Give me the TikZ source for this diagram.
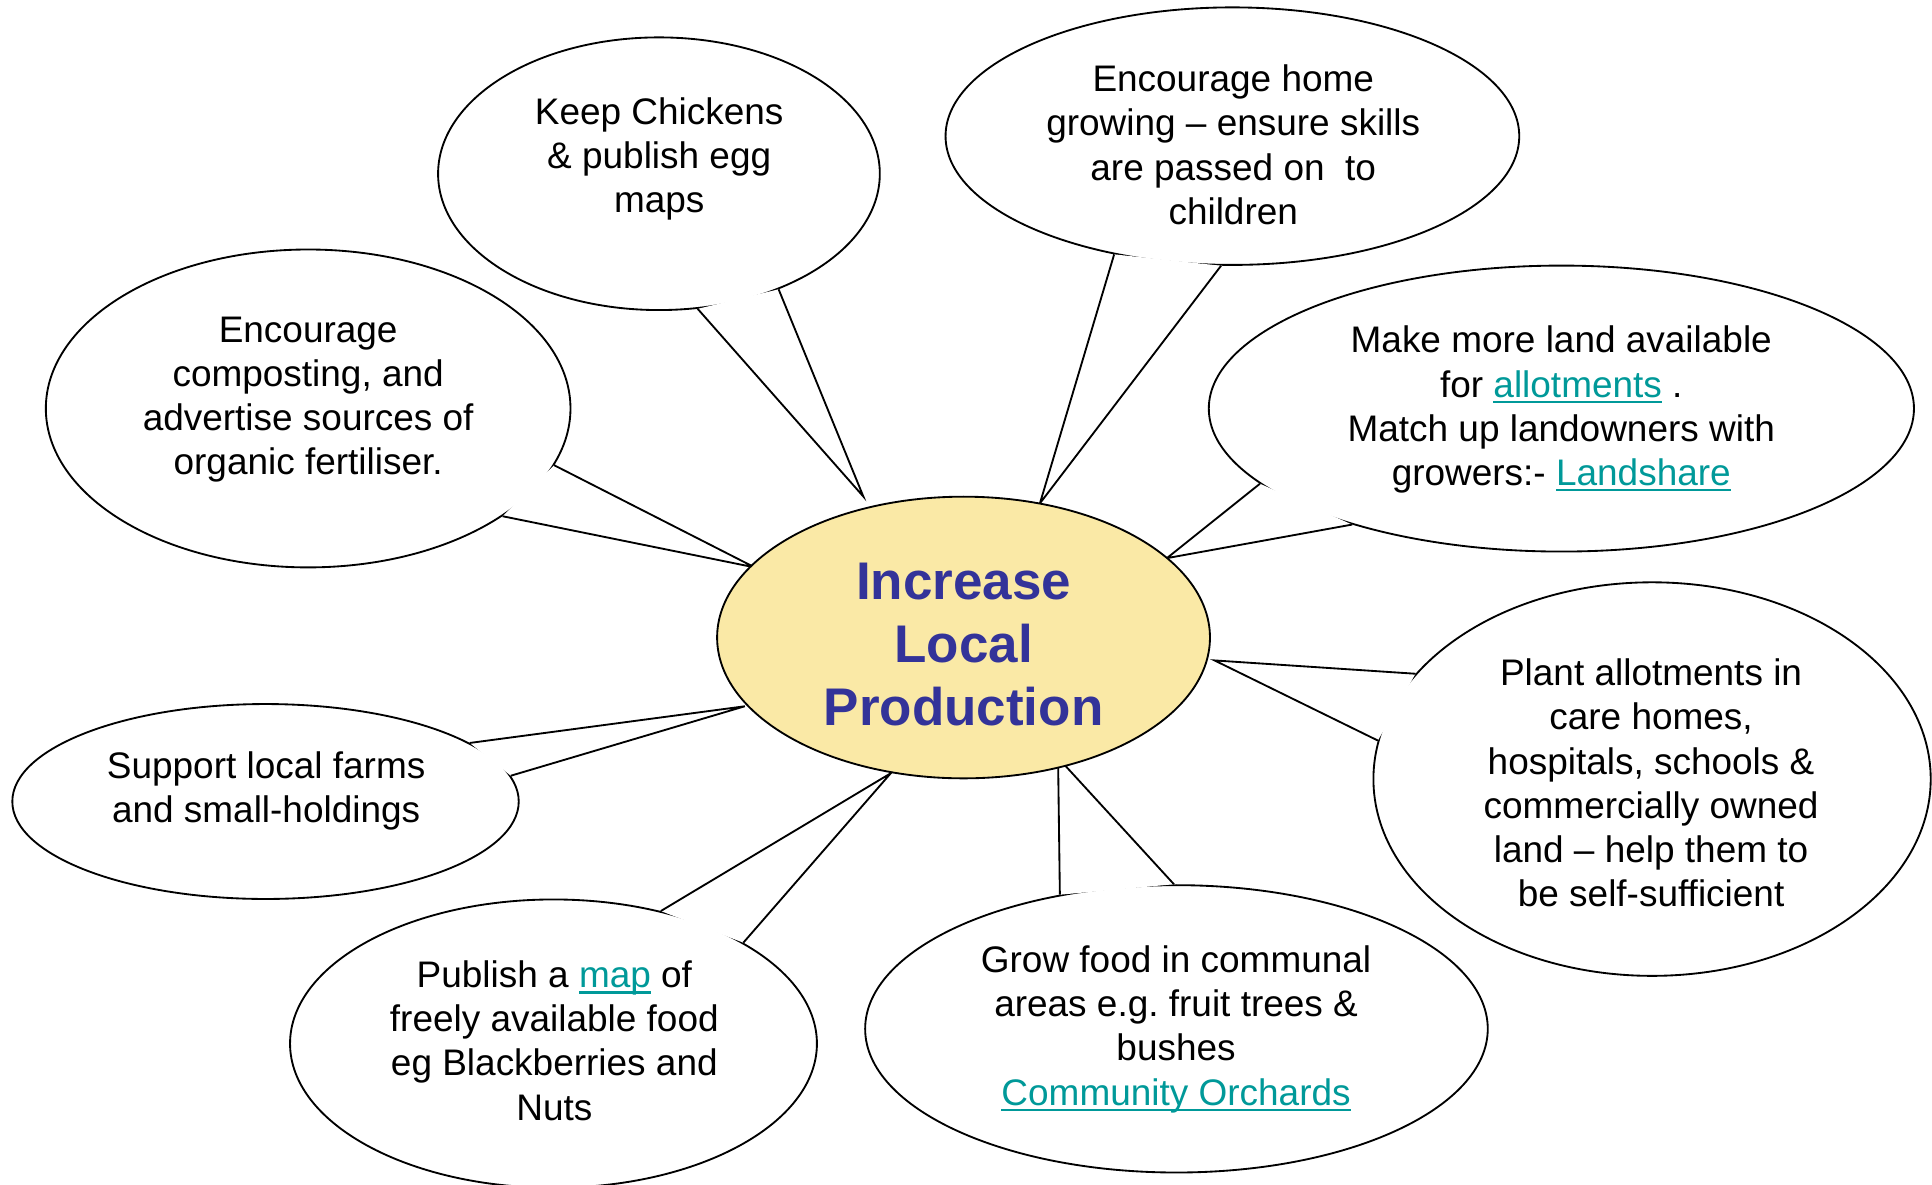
\documentclass[tikz,border=0pt]{standalone}
\usepackage{fontspec}
\setmainfont{Liberation Sans}
\usetikzlibrary{shapes.geometric}
\definecolor{linkc}{HTML}{009999}
\definecolor{titlec}{HTML}{333399}
\definecolor{hubfill}{HTML}{FAE9A6}
\newcommand\lnk[1]{{\color{linkc}\setbox0\hbox{#1}\rlap{\rule[-2.4pt]{\wd0}{0.85pt}}\box0}}
\frenchspacing
\begin{document}
\begin{tikzpicture}[x=0.5pt,y=-0.5pt,
  bubble/.style={ellipse, draw, fill=white, line width=0.75pt, inner sep=0pt},
  txt/.style={align=center, inner sep=0pt, font=\fontsize{15}{17.93}\selectfont},
  ptr/.style={line width=0.75pt},
  cover/.style={fill=white, draw=none},
]
\useasboundingbox (0,0) rectangle (1568,961.7);

% callout bubbles
\node[bubble, minimum width=179.25pt, minimum height=110.65pt] (c1) at (534.8,141) {};
\node[bubble, minimum width=232.8pt, minimum height=104.5pt] (c2) at (1000.2,110.5) {};
\node[bubble, minimum width=286.15pt, minimum height=116.05pt] (c3) at (1267.2,331.6) {};
\node[bubble, minimum width=226.15pt, minimum height=159.7pt] (c4) at (1340.8,632.3) {};
\node[bubble, minimum width=252.65pt, minimum height=116.6pt] (c5) at (954.8,835) {};
\node[bubble, minimum width=213.8pt, minimum height=117pt] (c6) at (449.2,847) {};
\node[bubble, minimum width=205.5pt, minimum height=79.1pt] (c7) at (215.5,650.5) {};
\node[bubble, minimum width=212.9pt, minimum height=129pt] (c8) at (250.1,331.5) {};

% pointer tips at the hub
\coordinate (p1) at (700.7,403);
\coordinate (p2) at (844,408.5);
\coordinate (p3) at (947,453);
\coordinate (p4) at (985.7,536);
\coordinate (p5) at (858.7,615);
\coordinate (p6) at (723,627.5);
\coordinate (p7) at (604.5,573.2);
\coordinate (p8) at (612.5,460.5);

% pointers
\fill[cover] (c1.286.6) -- (p1) -- (c1.316) -- cycle;
\draw[ptr] (c1.286.6) -- (p1) -- (c1.316);
\fill[cover] (c2.225) -- (p2) -- (c2.265.35) -- cycle;
\draw[ptr] (c2.225) -- (p2) -- (c2.265.35);
\fill[cover] (c3.194.36) -- (p3) -- (c3.209.29) -- cycle;
\draw[ptr] (c3.194.36) -- (p3) -- (c3.209.29);
\fill[cover] (c4.156.2) -- (p4) -- (c4.172.6) -- cycle;
\draw[ptr] (c4.156.2) -- (p4) -- (c4.172.6);
\fill[cover] (c5.131.6) -- (p5) -- (c5.91.2) -- cycle;
\draw[ptr] (c5.131.6) -- (p5) -- (c5.91.2);
\fill[cover] (c6.51.3) -- (p6) -- (c6.28.35) -- cycle;
\draw[ptr] (c6.51.3) -- (p6) -- (c6.28.35);
\fill[cover] (c7.16.86) -- (p7) -- (c7.6.6) -- cycle;
\draw[ptr] (c7.16.86) -- (p7) -- (c7.6.6);
\fill[cover] (c8.347.67) -- (p8) -- (c8.331.78) -- cycle;
\draw[ptr] (c8.347.67) -- (p8) -- (c8.331.78);

% hub
\node[ellipse, draw, fill=hubfill, line width=0.75pt, inner sep=0pt,
      minimum width=200pt, minimum height=114.3pt] (hub) at (782,517.4) {};
\node[align=center, inner sep=0pt, text=titlec,
      font=\fontsize{21.5}{25.7}\selectfont\bfseries] (title) at (782,523.1)
      {Increase\\Local\\Production};

% texts
\node[txt] (t1) at (535,128.9) {Keep Chickens\\\& publish egg\\maps};
\node[txt] (t2) at (1000.9,117.5) {Encourage home\\growing – ensure skills\\are passed on\ \ to\\children};
\node[txt] (t3) at (1267.1,332.5) {Make more land available\\for \lnk{allotments} .\\Match up landowners with\\growers:- \lnk{Landshare}};
\node[txt] (t4) at (1340,635.4) {Plant allotments in\\care homes,\\hospitals, schools \&\\commercially owned\\land – help them to\\be self-sufficient};
\node[txt] (t5) at (954.5,835.4) {Grow food in communal\\areas e.g. fruit trees \&\\bushes\\\lnk{Community Orchards}};
\node[txt] (t6) at (449.9,844.6) {Publish a \lnk{map} of\\freely available food\\eg Blackberries and\\Nuts};
\node[txt] (t7) at (216,641.8) {Support local farms\\and small-holdings};
\node[txt] (t8) at (250.1,324.5) {Encourage\\composting, and\\advertise sources of\\organic fertiliser.};
\end{tikzpicture}
\end{document}
